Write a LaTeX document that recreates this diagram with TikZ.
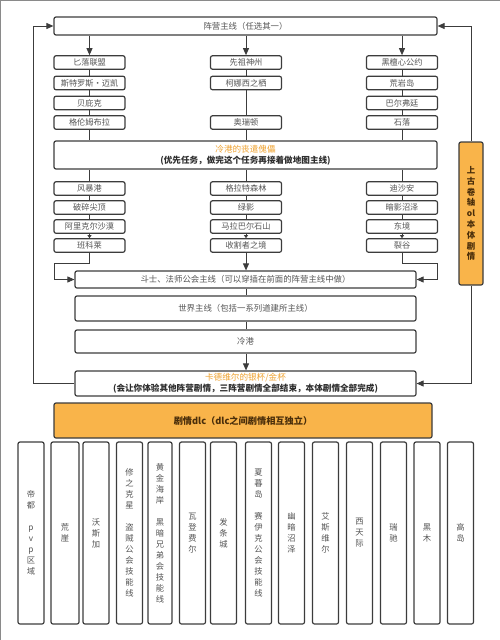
\documentclass[tikz,border=0pt]{standalone}
\usepackage{fontspec}
\setmainfont{Noto Sans CJK SC}
\usetikzlibrary{arrows.meta}
\definecolor{bord}{HTML}{3C3C3C}
\definecolor{txt}{HTML}{555555}
\definecolor{org}{HTML}{F9B44A}
\definecolor{orgtxt}{HTML}{EFA332}
\definecolor{dtxt}{HTML}{2E2E2E}
\definecolor{brn}{HTML}{4A2E0A}
\definecolor{frame}{HTML}{8A8A8A}
\begin{document}
\begin{tikzpicture}[x=1pt,y=-1pt,
 box/.style={draw=bord, line width=1.2pt, rounded corners=2pt, fill=white, inner sep=0pt, text=txt},
 sbox/.style={box, minimum width=71pt, minimum height=13.5pt, font=\fontsize{8.2}{9}\selectfont},
 wide/.style={box, minimum width=341pt, font=\fontsize{8.4}{10}\selectfont},
 twoline/.style={align=center, font=\fontsize{8.6}{11}\selectfont},
 vbox/.style={box, minimum width=26pt, minimum height=182pt, align=center, font=\fontsize{8.3}{11}\selectfont},
 obox/.style={box, fill=org, text=brn, font=\bfseries},
 conn/.style={draw=bord, line width=0.9pt},
 arr/.style={conn, -{Triangle[length=7pt,width=6pt]}},
 sarr/.style={conn, -{Triangle[length=3pt,width=4pt]}},
]
\useasboundingbox (0,0) rectangle (500,640);
\fill[white] (0,0) rectangle (500,640);
\draw[frame, line width=1pt] (0.5,640) -- (0.5,0.5) -- (500,0.5);

% top
\node[box, minimum width=383pt, minimum height=18pt, font=\fontsize{8.4}{10}\selectfont] (top) at (245.5,26) {阵营主线（任选其一）};

% first group
\node[sbox] (l1) at (89.5,62.5) {匕落联盟};
\node[sbox] (l2) at (89.5,83) {斯特罗斯·迈凯};
\node[sbox] (l3) at (89.5,103) {贝庇克};
\node[sbox] (l4) at (89.5,122.5) {格伦姆布拉};
\node[sbox] (m1) at (246,62.5) {先祖神州};
\node[sbox] (m2) at (246,83) {柯娜西之栖};
\node[sbox] (m3) at (246,122.5) {奥瑞顿};
\node[sbox] (r1) at (402,62.5) {黑檀心公约};
\node[sbox] (r2) at (402,83) {荒岩岛};
\node[sbox] (r3) at (402,103) {巴尔弗廷};
\node[sbox] (r4) at (402,122.5) {石落};

% big box
\node[box, minimum width=383pt, minimum height=28pt, twoline] (cold1) at (245.5,155)
 {{\color{orgtxt}冷港的丧遣傀儡}\\{\color{dtxt}\bfseries (优先任务，做完这个任务再接着做地图主线)}};

% second group
\node[sbox] (lb1) at (89.5,188.5) {风暴港};
\node[sbox] (lb2) at (89.5,207.5) {破碎尖顶};
\node[sbox] (lb3) at (89.5,226.5) {阿里克尔沙漠};
\node[sbox] (lb4) at (89.5,245.5) {班科莱};
\node[sbox] (mb1) at (246,188.5) {格拉特森林};
\node[sbox] (mb2) at (246,207.5) {绿影};
\node[sbox] (mb3) at (246,226.5) {马拉巴尔石山};
\node[sbox] (mb4) at (246,245.5) {收割者之境};
\node[sbox] (rb1) at (402,188.5) {迪沙安};
\node[sbox] (rb2) at (402,207.5) {暗影沼泽};
\node[sbox] (rb3) at (402,226.5) {东境};
\node[sbox] (rb4) at (402,245.5) {裂谷};

% main lines
\node[wide, minimum height=17pt] (guild) at (245.5,279.5) {斗士、法师公会主线（可以穿插在前面的阵营主线中做）};
\node[wide, minimum height=25pt] (world) at (245.5,308.5) {世界主线（包括一系列道建所主线）};
\node[wide, minimum height=23pt] (cold2) at (245.5,341.5) {冷港};
\node[wide, minimum height=25pt, twoline] (cad) at (245.5,383.5)
 {{\color{orgtxt}卡德维尔的银杯/金杯}\\{\color{dtxt}\bfseries (会让你体验其他阵营剧情，三阵营剧情全部结束，本体剧情全部完成)}};

% orange boxes
\node[obox, minimum width=24pt, minimum height=143pt, align=center, font=\bfseries\fontsize{8.4}{10.8}\selectfont] (side) at (471,213.5)
 {上\\古\\卷\\轴\\ol\\本\\体\\剧\\情};
\node[obox, minimum width=378pt, minimum height=35pt, font=\bfseries\fontsize{9.2}{11}\selectfont] (dlc) at (243,420.5) {剧情dlc（dlc之间剧情相互独立）};

% dlc boxes
\node[vbox] (d1) at (31,533) {帝\\都\\\mbox{}\\p\\v\\p\\区\\域};
\node[vbox, minimum width=28pt] (d2) at (65,533) {荒\\崖};
\node[vbox] (d3) at (96,533) {沃\\斯\\加};
\node[vbox] (d4) at (129.5,533) {修\\之\\克\\星\\\mbox{}\\盗\\贼\\公\\会\\技\\能\\线};
\node[vbox, minimum width=24pt] (d5) at (160,533) {黄\\金\\海\\岸\\\mbox{}\\黑\\暗\\兄\\弟\\会\\技\\能\\线};
\node[vbox] (d6) at (192.5,533) {瓦\\登\\费\\尔};
\node[vbox] (d7) at (223.5,533) {发\\条\\城};
\node[vbox] (d8) at (258.5,533) {夏\\暮\\岛\\\mbox{}\\赛\\伊\\克\\公\\会\\技\\能\\线};
\node[vbox] (d9) at (291.5,533) {幽\\暗\\沼\\泽};
\node[vbox] (d10) at (325.5,533) {艾\\斯\\维\\尔};
\node[vbox] (d11) at (359.5,533) {西\\天\\际};
\node[vbox] (d12) at (393.5,533) {瑞\\驰};
\node[vbox] (d13) at (427,533) {黑\\木};
\node[vbox] (d14) at (460.5,533) {高\\岛};

% connectors: top to factions
\draw[arr] (top.south -| l1.north) -- (l1.north);
\draw[arr] (top.south -| m1.north) -- (m1.north);
\draw[arr] (top.south -| r1.north) -- (r1.north);
% column lines
\draw[conn] (l1) -- (l2); \draw[conn] (l2) -- (l3); \draw[conn] (l3) -- (l4);
\draw[conn] (l4.south) -- (l4.south |- cold1.north);
\draw[conn] (m1) -- (m2); \draw[conn] (m2) -- (m3);
\draw[conn] (m3.south) -- (m3.south |- cold1.north);
\draw[conn] (r1) -- (r2); \draw[conn] (r2) -- (r3); \draw[conn] (r3) -- (r4);
\draw[conn] (r4.south) -- (r4.south |- cold1.north);
\draw[conn] (cold1.south -| lb1.north) -- (lb1.north);
\draw[conn] (cold1.south -| mb1.north) -- (mb1.north);
\draw[conn] (cold1.south -| rb1.north) -- (rb1.north);
\draw[conn] (lb1) -- (lb2); \draw[conn] (lb2) -- (lb3); \draw[sarr] (lb3) -- (lb4);
\draw[conn] (mb1) -- (mb2); \draw[conn] (mb2) -- (mb3); \draw[sarr] (mb3) -- (mb4);
\draw[conn] (rb1) -- (rb2); \draw[conn] (rb2) -- (rb3); \draw[sarr] (rb3) -- (rb4);
% into guild
\coordinate (jl) at (54,263);
\coordinate (jr) at (437,263);
\draw[arr] (lb4.south) |- (jl) |- (guild.west);
\draw[arr] (rb4.south) |- (jr) |- (guild.east);
\draw[arr] (mb4.south) -- (mb4.south |- guild.north);
\draw[conn] (guild.south -| mb4.south) -- (world.north -| mb4.south);
\draw[conn] (world.south -| mb4.south) -- (cold2.north -| mb4.south);
\draw[arr] (cold2.south -| mb4.south) -- (cad.north -| mb4.south);
% loops
\coordinate (lp) at (33,26);
\draw[arr] (cad.west) -| (lp) -- (top.west);
\draw[arr] (side.north) |- (top.east);
\draw[arr] (side.south) |- (cad.east);
\end{tikzpicture}
\end{document}
